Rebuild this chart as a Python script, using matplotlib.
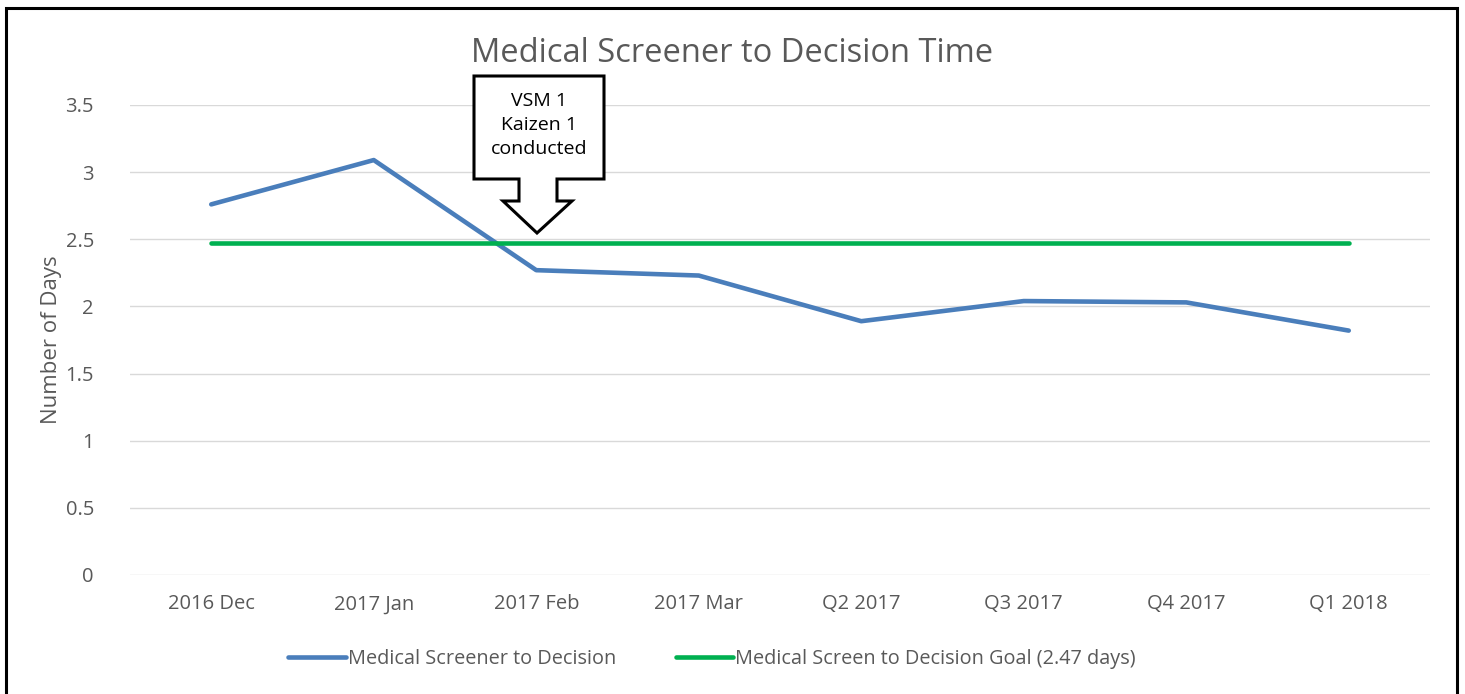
import matplotlib
matplotlib.use("Agg")
import matplotlib.pyplot as plt
from matplotlib.patches import Polygon, Rectangle

categories = ["2016 Dec", "2017 Jan", "2017 Feb", "2017 Mar", "Q2 2017", "Q3 2017", "Q4 2017", "Q1 2018"]
screener_days = [2.76, 3.09, 2.27, 2.23, 1.89, 2.04, 2.03, 1.82]
goal_days = [2.47] * len(categories)
yticks = [0, 0.5, 1, 1.5, 2, 2.5, 3, 3.5]
ytick_labels = ["0", "0.5", "1", "1.5", "2", "2.5", "3", "3.5"]

W, H = 1465, 694
plt.rcParams['font.family'] = ['Open Sans', 'DejaVu Sans']
fig = plt.figure(figsize=(W / 100, H / 100), dpi=100)

def fx(px):
    return px / W

def fy(py):
    return 1 - py / H

ax = fig.add_axes([fx(130), fy(575), fx(1430) - fx(130), fy(105) - fy(575)])
x = list(range(len(categories)))
ax.plot(x, screener_days, color="#4A7EBB", lw=3.3, solid_capstyle="round",
        label="Medical Screener to Decision", zorder=3)
ax.plot(x, goal_days, color="#00B050", lw=3.3, solid_capstyle="round",
        label="Medical Screen to Decision Goal (2.47 days)", zorder=3)

ax.set_xlim(-0.5, len(categories) - 0.5)
ax.set_ylim(0, 3.5)
ax.set_yticks(yticks)
ax.set_yticklabels(ytick_labels)
ax.set_xticks(x)
ax.set_xticklabels(categories)
ax.yaxis.grid(True, color="#D9D9D9", lw=1.0)
ax.set_axisbelow(True)
for s in ax.spines.values():
    s.set_visible(False)
ax.tick_params(axis="both", length=0, colors="#595959", labelsize=14.5)
ax.tick_params(axis="y", pad=26)
ax.tick_params(axis="x", pad=14)
ax.set_ylabel("Number of Days", fontsize=16, color="#595959")
ax.yaxis.set_label_coords((62 - 130) / 1300, 0.5)

fig.text(fx(732), fy(53), "Medical Screener to Decision Time", ha="center", va="center",
         fontsize=23.5, color="#595959")

leg = fig.legend(loc="center", bbox_to_anchor=(fx(712), fy(659)), ncol=2, frameon=False,
                 fontsize=14.3, handlelength=2.9, handletextpad=0.1, columnspacing=3.0)
for t in leg.get_texts():
    t.set_color("#595959")

# callout: box with down arrow
pts = [(474, 76), (604, 76), (604, 179), (557, 179), (557, 201), (572, 201),
       (537, 233), (503, 201), (519, 201), (519, 179), (474, 179)]
poly = Polygon([(fx(px), fy(py)) for px, py in pts], closed=True, transform=fig.transFigure,
               facecolor="white", edgecolor="black", lw=2.2, zorder=10)
fig.patches.append(poly)
fig.text(fx(539), fy(125), "VSM 1\nKaizen 1\nconducted", ha="center", va="center",
         fontsize=14, color="black", linespacing=1.4, zorder=11)

# outer frame
frame = Rectangle((fx(6), fy(720)), fx(1457) - fx(6), fy(8) - fy(720), transform=fig.transFigure,
                  fill=False, edgecolor="black", lw=2.2, clip_on=False)
fig.patches.append(frame)

fig.savefig("out.png", dpi=100)
